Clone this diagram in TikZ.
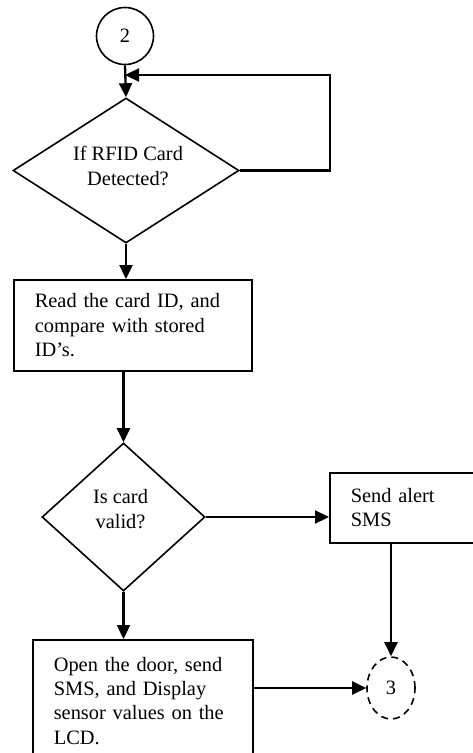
\documentclass[tikz,border=0pt]{standalone}
\usepackage{fontspec}
\setmainfont{Liberation Serif}
\usetikzlibrary{shapes.geometric,arrows.meta,calc}
\begin{document}
\begin{tikzpicture}[x=1pt,y=-1pt,
 every node/.style={font=\fontsize{20.4}{24.3}\selectfont},
 box/.style={draw,line width=1.6pt,rectangle,inner xsep=21pt,inner ysep=0pt,align=left,anchor=north west},
 dec/.style={draw,line width=1.6pt,diamond,inner sep=0pt},
 dectext/.style={align=center,inner sep=0pt},
 conn/.style={draw,line width=1.6pt,circle,inner sep=0pt},
 offconn/.style={draw,line width=1.6pt,ellipse,dashed,dash pattern=on 7pt off 5pt,inner sep=0pt},
 arr/.style={line width=2.3pt,-{Triangle[length=14pt,width=13pt]}}]
\path[use as bounding box] (0,0) rectangle (473,753);
\clip (0,0) rectangle (473,753);

\node[conn, minimum size=57pt] (c2) at (125,36) {2};
\node[dec, minimum width=226pt, minimum height=145pt] (d1) at (126,170.5) {};
\node[dectext] (d1t) at ($(d1.center)+(2,-4.5)$) {If RFID Card\\Detected?};
\node[box, text width=196pt, minimum height=91pt] (b1) at (13,279) {Read the card ID, and\\compare with stored\\ID’s.};
\node[dec, minimum width=163pt, minimum height=148pt] (d2) at (123.5,517) {};
\node[dectext] (d2t) at ($(d2.center)+(-3,-8)$) {Is card\\valid?};
\node[box, text width=110pt, minimum height=70pt] (b2) at (329,472) {Send alert\\SMS};
\node[box, text width=178pt, minimum height=122pt] (b3) at (32,639) {Open the door, send\\SMS, and Display\\sensor values on the\\LCD.};
\node[offconn, minimum width=48pt, minimum height=62pt] (c3) at (391,688) {3};

\coordinate (j) at (125,75);
\draw[arr] (c2.south) -- (d1.north);
\draw[arr] (d1.east) -- ++(90,0) |- (j);
\draw[arr] (d1.south) -- (d1.south |- b1.north);
\draw[arr] (d2.north |- b1.south) -- (d2.north);
\draw[arr] (d2.east) -- (d2.east -| b2.west);
\draw[arr] (d2.south) -- (d2.south |- b3.north);
\draw[arr] (c3.north |- b2.south) -- (c3.north);
\draw[arr] (b3.east |- c3.west) -- (c3.west);
\end{tikzpicture}
\end{document}
